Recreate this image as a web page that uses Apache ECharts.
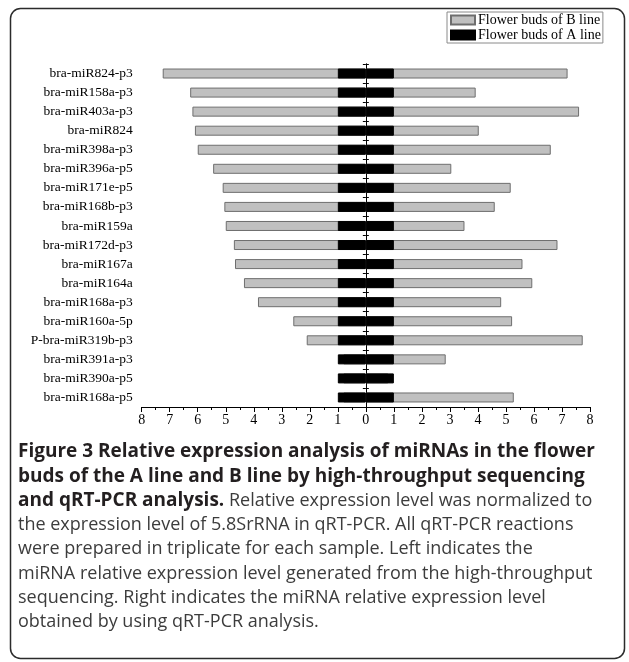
<!DOCTYPE html>
<html>
<head>
<meta charset="utf-8">
<script src="https://cdn.jsdelivr.net/npm/echarts@6/dist/echarts.min.js"></script>
<style>html,body{margin:0;padding:0;background:#fff;}#c{width:629px;height:662px;}</style>
</head>
<body>
<div id="c"></div>
<script>
var categories = ['bra-miR824-p3','bra-miR158a-p3','bra-miR403a-p3','bra-miR824','bra-miR398a-p3','bra-miR396a-p5','bra-miR171e-p5','bra-miR168b-p3','bra-miR159a','bra-miR172d-p3','bra-miR167a','bra-miR164a','bra-miR168a-p3','bra-miR160a-5p','P-bra-miR319b-p3','bra-miR391a-p3','bra-miR390a-p5','bra-miR168a-p5'];
// Left side: high-throughput sequencing (B line relative to A line)
var seqB = [7.25,6.27,6.19,6.10,6.00,5.45,5.11,5.05,5.00,4.71,4.67,4.35,3.85,2.59,2.11,0.8,0.8,0.8];
// Right side: qRT-PCR (B line relative to A line)
var qpcrB = [7.20,3.92,7.61,4.03,6.60,3.05,5.17,4.60,3.52,6.84,5.59,5.94,4.83,5.22,7.74,2.85,0.8,5.28];
// A line (reference level)
var seqA = [1,1,1,1,1,1,1,1,1,1,1,1,1,1,1,1,1,1];
var qpcrA = [1,1,1,1,1,1,1,1,1,1,1,1,1,1,1,1,1,1];
var xTicks = {min: -8, max: 8, interval: 1};
var nameB = 'Flower buds of B line';
var nameA = 'Flower buds of A line';

var serif = '"Liberation Serif", "Times New Roman", serif';
var sans = '"Open Sans", "Noto Sans", sans-serif';

var chart = echarts.init(document.getElementById('c'), null, {renderer: 'canvas'});

var greyStyle = {color: '#c0c0c0', borderColor: '#6e6e6e', borderWidth: 1};
var blackStyle = {color: '#000000', borderColor: '#000000', borderWidth: 1};

var captionLines = [
  [{t: 'Figure 3 Relative expression analysis of miRNAs in the flower', s: 'b'}],
  [{t: 'buds of the A line and B line by high-throughput sequencing', s: 'b'}],
  [{t: 'and qRT-PCR analysis.', s: 'b'}, {t: ' Relative expression level was normalized to', s: 'r'}],
  [{t: 'the expression level of 5.8SrRNA in qRT-PCR. All qRT-PCR reactions', s: 'r'}],
  [{t: 'were prepared in triplicate for each sample. Left indicates the', s: 'r'}],
  [{t: 'miRNA relative expression level generated from the high-throughput', s: 'r'}],
  [{t: 'sequencing. Right indicates the miRNA relative expression level', s: 'r'}],
  [{t: 'obtained by using qRT-PCR analysis.', s: 'r'}]
];

var graphics = [{
  type: 'rect', left: 8, top: 6,
  shape: {width: 614, height: 650, r: 10},
  style: {fill: 'none', stroke: '#2b2b2b', lineWidth: 1.5},
  silent: true, z: -1
}];
captionLines.forEach(function (parts, i) {
  var txt = parts.map(function (p) { return '{' + p.s + '|' + p.t + '}'; }).join('');
  graphics.push({
    type: 'text', x: 18, y: 452 + i * 24.3,
    style: {
      text: txt,
      verticalAlign: 'middle',
      rich: {
        b: {fontFamily: sans, fontWeight: 'bold', fontSize: 19, fill: '#231f20'},
        r: {fontFamily: sans, fontWeight: 'normal', fontSize: 18, fill: '#3c3c3c'}
      }
    },
    silent: true
  });
});

var option = {
  animation: false,
  backgroundColor: '#ffffff',
  grid: {left: 141.7, right: 39, top: 64, bottom: 255, containLabel: false},
  legend: {
    orient: 'vertical',
    left: 447, top: 12,
    padding: [1, 2, 1, 3],
    itemGap: 1,
    itemWidth: 24, itemHeight: 9,
    borderColor: '#8a8a8a', borderWidth: 1,
    icon: 'rect',
    textStyle: {fontFamily: serif, fontSize: 14, lineHeight: 13, color: '#000', padding: [0, 0, 0, -2]},
    data: [nameB, nameA]
  },
  xAxis: {
    type: 'value', min: xTicks.min, max: xTicks.max, interval: xTicks.interval,
    axisLine: {show: true, lineStyle: {color: '#000', width: 1}},
    axisTick: {show: true, length: 5, lineStyle: {color: '#000'}},
    minorTick: {show: true, splitNumber: 2, length: 3, lineStyle: {color: '#000'}},
    splitLine: {show: false},
    axisLabel: {fontFamily: serif, fontSize: 14, color: '#000', margin: 6,
      formatter: function (v) { return String(Math.abs(v)); }}
  },
  yAxis: [{
    type: 'category', data: categories, inverse: true,
    axisLine: {show: false, onZero: false},
    axisTick: {show: false},
    axisLabel: {fontFamily: serif, fontSize: 13.5, color: '#000', margin: 9}
  }, {
    type: 'category', data: categories, inverse: true, position: 'left',
    axisLine: {show: true, onZero: true, onZeroAxisIndex: 0, lineStyle: {color: '#000'}},
    axisTick: {show: true, length: 3, lineStyle: {color: '#000'}},
    axisLabel: {show: false}
  }, {
    type: 'category', data: categories, inverse: true, position: 'right',
    axisLine: {show: true, onZero: true, onZeroAxisIndex: 0, lineStyle: {color: '#000'}},
    axisTick: {show: true, length: 3, lineStyle: {color: '#000'}},
    axisLabel: {show: false}
  }],
  series: [{
    name: nameB, type: 'bar', stack: 'B', yAxisIndex: 0, barWidth: 10, barGap: '-100%',
    itemStyle: greyStyle, data: seqB.map(function (v) { return -v; })
  }, {
    name: nameB, type: 'bar', stack: 'B', yAxisIndex: 0, barWidth: 10, barGap: '-100%',
    itemStyle: greyStyle, data: qpcrB
  }, {
    name: nameA, type: 'bar', stack: 'A', yAxisIndex: 0, barWidth: 10, barGap: '-100%',
    itemStyle: blackStyle, data: seqA.map(function (v) { return -v; })
  }, {
    name: nameA, type: 'bar', stack: 'A', yAxisIndex: 0, barWidth: 10, barGap: '-100%',
    itemStyle: blackStyle, data: qpcrA
  }],
  graphic: graphics
};
chart.setOption(option);
</script>
</body>
</html>
